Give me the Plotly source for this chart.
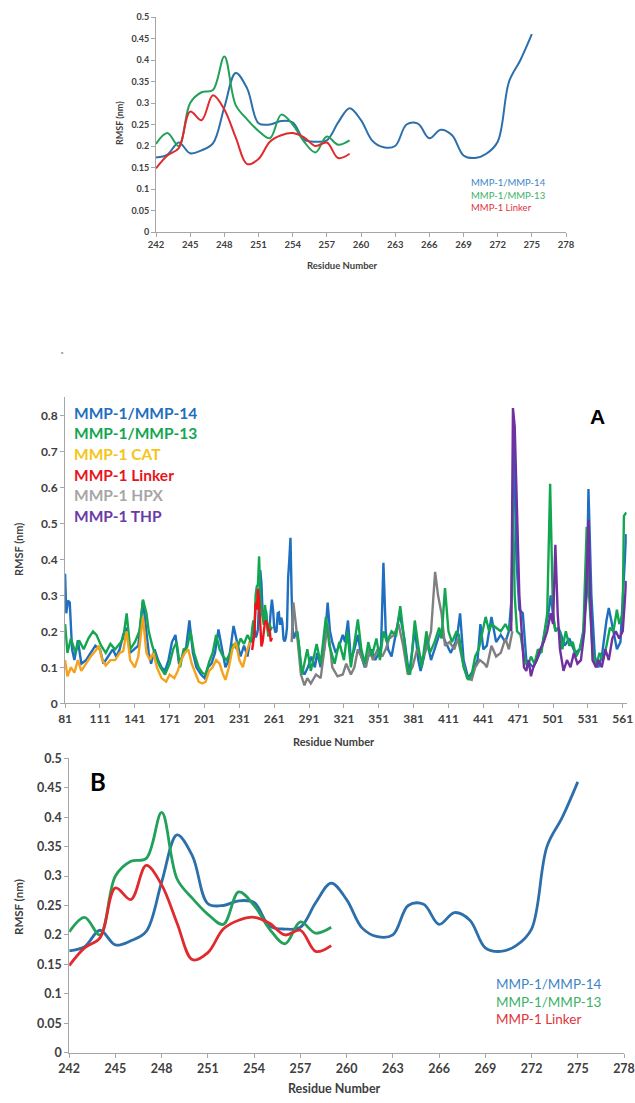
import plotly.graph_objects as go

W, H = 635, 1103
def px(x): return x / W
def py(y): return 1 - y / H

# ---------------- Zoomed linker region (top panel and panel B) ----------------
b_res_14 = list(range(242, 276))
b_mmp14 = [0.173, 0.18, 0.208, 0.183, 0.19, 0.206, 0.29, 0.37, 0.334, 0.253,
           0.25, 0.258, 0.255, 0.215, 0.21, 0.213, 0.255, 0.288, 0.26, 0.212,
           0.197, 0.2, 0.25, 0.252, 0.218, 0.238, 0.225, 0.178, 0.172, 0.182,
           0.21, 0.35, 0.40, 0.46]
b_res_13 = list(range(242, 260))
b_mmp13 = [0.205, 0.23, 0.2, 0.3, 0.325, 0.33, 0.408, 0.295, 0.262, 0.235,
           0.218, 0.273, 0.25, 0.21, 0.185, 0.222, 0.203, 0.213]
b_res_lk = list(range(242, 260))
b_linker = [0.148, 0.178, 0.195, 0.28, 0.26, 0.318, 0.285, 0.22, 0.158, 0.17,
            0.21, 0.225, 0.23, 0.22, 0.2, 0.208, 0.172, 0.182]
b_xticks = list(range(242, 279, 3))
b_yticks = [0, 0.05, 0.1, 0.15, 0.2, 0.25, 0.3, 0.35, 0.4, 0.45, 0.5]
b_yticktext = ["0", "0.05", "0.1", "0.15", "0.2", "0.25", "0.3", "0.35", "0.4", "0.45", "0.5"]

# ---------------- Panel A: full protein ----------------
a14_res1 = [81, 82, 83.5, 85, 87, 89, 92, 95, 99, 103, 107, 111, 114, 118, 122, 125, 128, 131, 134, 137,
            141, 144, 148, 151, 153, 155, 158, 161, 164, 167, 170, 173, 176, 179, 182, 185, 188, 191, 194, 198,
            201, 204, 207, 210, 213, 216, 219, 222, 226, 229, 232, 235, 238, 240]
a14_val1 = [0.36, 0.25, 0.285, 0.28, 0.15, 0.12, 0.175, 0.11, 0.12, 0.14, 0.16, 0.15, 0.11, 0.13, 0.15, 0.13, 0.15, 0.19, 0.21, 0.14,
            0.15, 0.16, 0.285, 0.2, 0.14, 0.11, 0.15, 0.12, 0.1, 0.09, 0.12, 0.17, 0.19, 0.11, 0.13, 0.15, 0.23, 0.14, 0.1, 0.08,
            0.07, 0.1, 0.11, 0.14, 0.205, 0.15, 0.1, 0.12, 0.215, 0.17, 0.13, 0.16, 0.13, 0.17]
a14_res3 = [276, 277, 278, 280, 282, 284, 287, 290, 293, 296, 298, 301, 304, 307, 309, 311, 314, 317, 320, 322,
            324.5, 327, 330, 333, 336, 339, 342, 345, 348, 351, 353, 355, 357, 359, 362, 366, 369, 373, 377, 380,
            382, 385, 387, 390, 392, 396, 400, 404, 407, 410, 413, 417, 419, 421, 424, 428, 432, 436, 438.5, 441,
            444, 448, 452, 456, 460, 463, 465.5, 467.5, 469.5, 472, 475, 478, 481, 484, 487, 491, 494, 497, 499, 502.5,
            507, 511, 515, 520, 524, 527, 530, 531.5, 534, 537, 540, 543, 547, 549, 553, 556, 559, 561, 564]
a14_val3 = [0.3, 0.2, 0.18, 0.2, 0.17, 0.1, 0.08, 0.1, 0.13, 0.1, 0.14, 0.1, 0.15, 0.28, 0.2, 0.17, 0.14, 0.16, 0.19, 0.17,
            0.23, 0.12, 0.15, 0.19, 0.13, 0.1, 0.13, 0.15, 0.12, 0.14, 0.16, 0.39, 0.2, 0.15, 0.13, 0.2, 0.25, 0.18, 0.08, 0.15,
            0.21, 0.12, 0.09, 0.13, 0.18, 0.12, 0.16, 0.2, 0.18, 0.16, 0.14, 0.17, 0.2, 0.25, 0.12, 0.07, 0.09, 0.12, 0.22, 0.15,
            0.16, 0.24, 0.17, 0.19, 0.17, 0.2, 0.3, 0.75, 0.4, 0.26, 0.25, 0.12, 0.11, 0.1, 0.12, 0.15, 0.2, 0.25, 0.3, 0.21,
            0.2, 0.16, 0.18, 0.14, 0.15, 0.2, 0.3, 0.595, 0.3, 0.13, 0.1, 0.13, 0.23, 0.265, 0.2, 0.15, 0.17, 0.3, 0.47]

a13_res1 = [81, 83, 86, 90, 93, 97, 101, 105, 108, 112, 116, 120, 124, 128, 131, 134, 137, 141, 145, 148,
            151, 153, 156, 160, 163, 167, 171, 174, 177, 180, 183, 186, 189, 192, 196, 199, 202, 205, 208, 211,
            214, 217, 220, 223, 226, 229, 232, 235, 238, 241]
a13_val1 = [0.22, 0.14, 0.18, 0.14, 0.175, 0.15, 0.18, 0.2, 0.19, 0.16, 0.14, 0.165, 0.15, 0.165, 0.18, 0.25, 0.15, 0.17, 0.2, 0.288,
            0.25, 0.2, 0.16, 0.12, 0.1, 0.08, 0.11, 0.15, 0.17, 0.1, 0.15, 0.155, 0.2, 0.14, 0.1, 0.085, 0.08, 0.115, 0.14, 0.19,
            0.15, 0.13, 0.12, 0.14, 0.165, 0.15, 0.18, 0.165, 0.19, 0.17]
a13_res3 = [281, 282.5, 285, 289.5, 292.5, 297.5, 301, 305.5, 308.5, 313, 317, 321, 324, 327, 333, 336, 339, 342, 345, 349,
            352, 355, 358, 362, 366, 369.5, 372, 376, 378, 382, 385, 388, 392, 395, 399, 403, 405, 408, 411, 414,
            418, 420, 424, 428, 431, 434, 437, 440, 443, 446, 448, 452, 456, 460, 463, 465, 466.5, 468, 470, 473,
            476, 479, 482, 485, 488, 491, 494, 496, 498.5, 501, 503, 506, 509, 512, 515, 518, 521, 524, 527, 530,
            532, 535, 538, 541, 544, 547, 550, 553, 556, 558, 561, 562, 564]
a13_val3 = [0.2, 0.15, 0.08, 0.15, 0.09, 0.165, 0.11, 0.24, 0.16, 0.11, 0.17, 0.12, 0.2, 0.1, 0.233, 0.15, 0.11, 0.17, 0.13, 0.18,
            0.12, 0.2, 0.17, 0.2, 0.19, 0.27, 0.2, 0.09, 0.08, 0.23, 0.16, 0.1, 0.2, 0.14, 0.17, 0.21, 0.18, 0.32, 0.2, 0.17,
            0.2, 0.19, 0.1, 0.065, 0.08, 0.13, 0.15, 0.2, 0.24, 0.2, 0.22, 0.21, 0.2, 0.22, 0.2, 0.23, 0.57, 0.3, 0.2, 0.19,
            0.13, 0.1, 0.13, 0.11, 0.15, 0.14, 0.2, 0.25, 0.61, 0.25, 0.2, 0.21, 0.15, 0.2, 0.16, 0.17, 0.13, 0.15, 0.19, 0.49,
            0.3, 0.15, 0.1, 0.14, 0.12, 0.16, 0.21, 0.2, 0.26, 0.22, 0.25, 0.52, 0.53]

cat_res = [81, 83, 86, 89, 92, 95, 99, 103, 107, 110, 113, 116, 120, 124, 128, 131, 134, 137, 141, 144,
           148, 151, 154, 157, 160, 164, 168, 171, 175, 178, 181, 184, 187, 190, 193, 196, 199, 202, 205, 208,
           211, 214, 217, 219, 222, 225, 228, 231, 234, 237, 240]
cat_val = [0.12, 0.075, 0.1, 0.085, 0.12, 0.09, 0.11, 0.13, 0.145, 0.16, 0.12, 0.105, 0.12, 0.12, 0.14, 0.145, 0.2, 0.12, 0.1, 0.13,
           0.24, 0.14, 0.12, 0.14, 0.1, 0.07, 0.06, 0.08, 0.07, 0.09, 0.12, 0.14, 0.15, 0.11, 0.085, 0.06, 0.055, 0.06, 0.09, 0.1,
           0.12, 0.11, 0.08, 0.065, 0.1, 0.15, 0.17, 0.12, 0.1, 0.14, 0.17]

hpx_res = [276, 277.5, 281, 284, 287, 289.5, 292.5, 297, 301, 307, 311, 315.5, 320, 323, 327, 330, 333, 337, 340, 343,
           346, 350, 354, 357, 360, 364, 368, 372, 376, 380, 384, 388, 392, 396, 399.5, 402, 405, 408, 412, 416,
           419, 423, 427, 431, 434, 438, 442, 444, 448, 452, 456, 460, 463, 466]
hpx_val = [0.17, 0.28, 0.18, 0.08, 0.05, 0.07, 0.055, 0.08, 0.07, 0.22, 0.1, 0.075, 0.08, 0.11, 0.08, 0.1, 0.15, 0.12, 0.1, 0.15,
           0.12, 0.15, 0.13, 0.15, 0.18, 0.19, 0.22, 0.16, 0.08, 0.1, 0.15, 0.12, 0.15, 0.2, 0.365, 0.3, 0.25, 0.16, 0.17, 0.15,
           0.18, 0.12, 0.07, 0.065, 0.1, 0.12, 0.11, 0.1, 0.16, 0.13, 0.14, 0.18, 0.15, 0.2]

thp_res = [465, 466.5, 468, 470, 472, 474, 476, 478, 480, 482, 484, 487, 490, 493, 496, 499, 501, 503, 505, 507,
           510, 513, 516, 519, 522, 525, 528, 530, 531.5, 533, 535, 538, 540, 543, 546, 549, 552, 555, 558, 561, 564]
thp_val = [0.2, 0.82, 0.77, 0.55, 0.3, 0.2, 0.1, 0.09, 0.12, 0.075, 0.1, 0.12, 0.15, 0.17, 0.2, 0.25, 0.22, 0.44, 0.25, 0.15,
           0.09, 0.12, 0.1, 0.14, 0.11, 0.12, 0.2, 0.35, 0.51, 0.3, 0.12, 0.1, 0.12, 0.1, 0.15, 0.12, 0.18, 0.2, 0.18, 0.2, 0.34]

a_xticks = list(range(81, 562, 30))
a_yticks = [0, 0.1, 0.2, 0.3, 0.4, 0.5, 0.6, 0.7, 0.8]
a_yticktext = ["0", "0.1", "0.2", "0.3", "0.4", "0.5", "0.6", "0.7", "0.8"]

names = ["MMP-1/MMP-14", "MMP-1/MMP-13", "MMP-1 CAT", "MMP-1 Linker", "MMP-1 HPX", "MMP-1 THP"]

# colours
C14, C13, CCAT, CLK, CHPX, CTHP = "#1F6FC0", "#13A651", "#F5A31C", "#F01418", "#808080", "#7030A0"
LEG_A = ["#1F6FC0", "#13A651", "#F5C518", "#E8141B", "#A6A6A6", "#6A3AA6"]
B14, B13, BLK = "#2C6FAA", "#23A05A", "#E02A2E"
LEG_B = ["#3D85C6", "#3CB06A", "#E0333A"]

FONT = "Lato, Carlito, 'Open Sans', sans-serif"
fig = go.Figure()

# ---- top panel traces (xaxis / yaxis) ----
for r, v, c in [(b_res_14, b_mmp14, B14), (b_res_13, b_mmp13, B13), (b_res_lk, b_linker, BLK)]:
    fig.add_trace(go.Scatter(x=r, y=v, mode="lines", line=dict(color=c, width=2, shape="spline", smoothing=1.0),
                             xaxis="x", yaxis="y", showlegend=False, hoverinfo="skip"))

# ---- panel A traces (xaxis2 / yaxis2) ----
a14_x = a14_res1 + b_res_14 + a14_res3
a14_y = a14_val1 + b_mmp14 + a14_val3
a13_x = a13_res1 + b_res_13 + [None] + a13_res3
a13_y = a13_val1 + b_mmp13 + [None] + a13_val3
for r, v, c in [(a14_x, a14_y, C14), (hpx_res, hpx_val, CHPX), (a13_x, a13_y, C13),
                (cat_res, cat_val, CCAT), (b_res_lk, b_linker, CLK), (thp_res, thp_val, CTHP)]:
    fig.add_trace(go.Scatter(x=r, y=v, mode="lines", line=dict(color=c, width=2.4), connectgaps=False,
                             xaxis="x2", yaxis="y2", showlegend=False, hoverinfo="skip"))

# ---- panel B traces (xaxis3 / yaxis3) ----
for r, v, c in [(b_res_14, b_mmp14, B14), (b_res_13, b_mmp13, B13), (b_res_lk, b_linker, BLK)]:
    fig.add_trace(go.Scatter(x=r, y=v, mode="lines", line=dict(color=c, width=2.8, shape="spline", smoothing=1.0),
                             xaxis="x3", yaxis="y3", showlegend=False, hoverinfo="skip"))

AX = "#A6A6A6"
def xa(dom, rng, ticks, fs, anchor):
    return dict(domain=dom, range=rng, tickvals=ticks, ticktext=[str(t) for t in ticks], showgrid=False,
                zeroline=False, showline=True, linecolor=AX, linewidth=1, ticks="outside", ticklen=4,
                tickcolor=AX, anchor=anchor, automargin=False,
                tickfont=dict(family=FONT, size=fs, color="#404040", weight="bold"))
def ya(dom, rng, ticks, text, fs, anchor):
    return dict(domain=dom, range=rng, tickvals=ticks, ticktext=text, showgrid=False, zeroline=False,
                showline=True, linecolor=AX, linewidth=1, ticks="outside", ticklen=4, tickcolor=AX,
                anchor=anchor, automargin=False,
                tickfont=dict(family=FONT, size=fs, color="#404040", weight="bold"))

fig.update_layout(
    template="none",
    width=W, height=H, margin=dict(l=0, r=0, t=0, b=0, pad=0), autosize=False,
    paper_bgcolor="white", plot_bgcolor="white",
    xaxis=xa([px(156), px(566)], [242, 278], b_xticks, 9.5, "y"),
    yaxis=ya([py(232), py(17)], [0, 0.5], b_yticks, b_yticktext, 9, "x"),
    xaxis2=xa([px(65.1), px(626.8)], [81, 564.5], a_xticks, 12, "y2"),
    yaxis2=ya([py(703.3), py(397.3)], [0, 0.85], a_yticks, a_yticktext, 12, "x2"),
    xaxis3=xa([px(69.2), px(624.0)], [242, 278], b_xticks, 12.5, "y3"),
    yaxis3=ya([py(1052.7), py(758.3)], [0, 0.5], b_yticks, b_yticktext, 12.5, "x3"),
)

ann = []
def text(x, y, t, size, color="#404040", bold=True, xanchor="center", angle=0, family=FONT):
    ann.append(dict(x=px(x), y=py(y), xref="paper", yref="paper", text=t, showarrow=False,
                    xanchor=xanchor, yanchor="middle", textangle=angle,
                    font=dict(family=family, size=size, color=color, weight="bold" if bold else "normal")))

# top panel labels
text(343, 265, "Residue Number", 9.5)
text(120, 123, "RMSF (nm)", 9, angle=-90)
for i, (nm, c) in enumerate(zip(names[:2] + [names[3]], LEG_B)):
    text(469, 183 + i * 12.2, nm, 9.5, color=c, bold=False, xanchor="left")

# panel A labels
for i, (nm, c) in enumerate(zip(names, LEG_A)):
    text(72, 412.7 + i * 20.6, nm, 15.5, color=c, xanchor="left")
text(597, 416, "A", 21, color="#000000", family="Arial, 'Liberation Sans', sans-serif")
text(18, 550, "RMSF (nm)", 11, angle=-90)
text(334, 741, "Residue Number", 11)

# panel B labels
text(98, 781, "B", 24, color="#000000")
text(18, 907, "RMSF (nm)", 11.5, angle=-90)
text(334, 1088, "Residue Number", 12.5)
for i, (nm, c) in enumerate(zip(names[:2] + [names[3]], LEG_B)):
    text(494, 984.3 + i * 17.2, nm, 13.5, color=c, bold=False, xanchor="left")

# small stray mark
text(62, 352, "■", 4, color="#A0A0A0", bold=False)

fig.update_layout(annotations=ann)
fig.write_html("out.html", config={"displayModeBar": False},
               post_script="document.body.style.margin='0';document.body.style.overflow='hidden';")
